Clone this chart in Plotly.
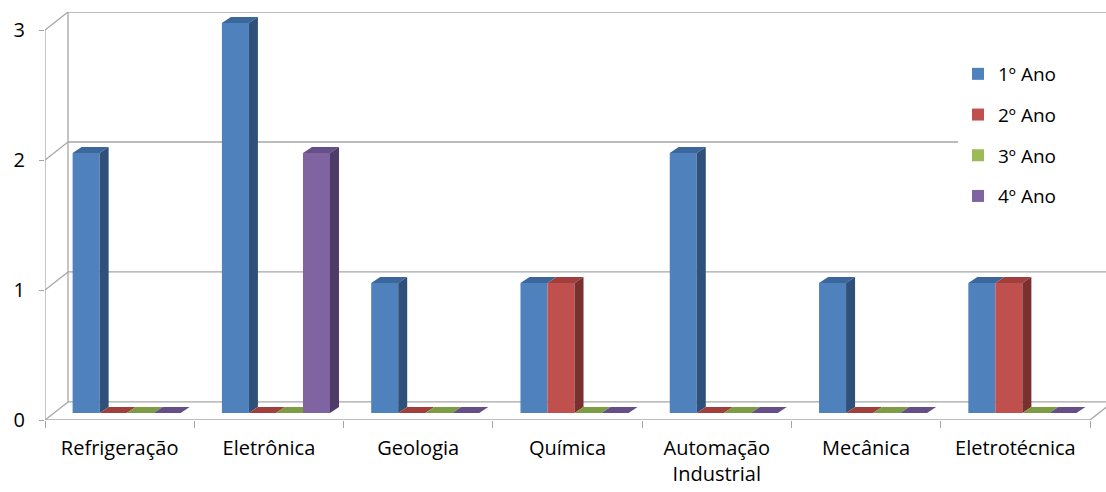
import numpy as np
import plotly.graph_objects as go

# --- data -------------------------------------------------------------
cursos = ["Refrigeração", "Eletrônica", "Geologia", "Química",
          "Automação<br>Industrial", "Mecânica", "Eletrotécnica"]
series_names = ["1º Ano", "2º Ano", "3º Ano", "4º Ano"]
ano1 = [2, 3, 1, 1, 2, 1, 1]
ano2 = [0, 0, 0, 1, 0, 0, 1]
ano3 = [0, 0, 0, 0, 0, 0, 0]
ano4 = [0, 2, 0, 0, 0, 0, 0]
y_ticks = [0, 1, 2, 3]
y_tick_labels = ["0", "1", "2", "3"]

series = [ano1, ano2, ano3, ano4]
front_colors = ["#4F81BD", "#C0504D", "#9BBB59", "#8064A2"]
top_colors = ["#3C679C", "#A03F3C", "#7E9B46", "#664F86"]
side_colors = ["#2F5079", "#7A302E", "#5F7634", "#4E3C68"]

# --- geometry of the pseudo-3D box -------------------------------------
W, H = 1106, 492
ML, MR, MT, MB = 45, 0, 12, 72
n = len(cursos)
px_x = 1045 / n                       # pixels per category
x_lo = -0.5
x_hi = x_lo + (W - ML - MR) / px_x
y_lo, y_hi = -0.054, 3.085
px_y = (H - MT - MB) / (y_hi - y_lo)

bar_w = 0.181                          # width of one bar (category units)
group_shift = 0.047
offsets = [-2 * bar_w + group_shift + k * bar_w for k in range(4)]
dx = 9 / px_x                          # bar depth
dy = 6 / px_y
axis_dy = -0.054                       # front (axis) plane vs bar plane
back_dx = 23 / px_x                    # wall depth
back_dy = 0.085

grid = "#A6A6A6"
shapes = []


def line(x0, y0, x1, y1, color=grid, width=1.3):
    shapes.append(dict(type="line", xref="x", yref="y", x0=x0, y0=y0,
                       x1=x1, y1=y1, line=dict(color=color, width=width),
                       layer="below"))


# back wall gridlines + diagonals to the axis plane
bx = x_lo + back_dx
for v in y_ticks:
    yb = v + back_dy
    ya = v + axis_dy
    line(x_lo, ya, bx, yb)
    x_end = x_hi
    if v == 2:
        x_end = x_lo + (958 - ML) / px_x
    line(bx, yb, x_end, yb)
# back wall left edge
line(bx, y_ticks[0] + back_dy, bx, y_ticks[-1] + back_dy)
# floor front edge and right diagonal
line(x_lo, axis_dy, x_lo + n, axis_dy)
line(x_lo + n, axis_dy, x_lo + n + back_dx, back_dy)
# vertical axis line
line(x_lo, axis_dy, x_lo, y_ticks[-1] + axis_dy)


def poly(pts, color):
    path = "M " + " L ".join(f"{px:.5f},{py:.5f}" for px, py in pts) + " Z"
    shapes.append(dict(type="path", xref="x", yref="y", path=path,
                       fillcolor=color, line=dict(width=0), layer="above"))


# top and side faces of every bar, drawn from the same values
for i in range(n):
    for k in range(4):
        v = series[k][i]
        x0 = i + offsets[k]
        x1 = x0 + bar_w
        nxt = series[k + 1][i] if k < 3 else 0
        if v == 0 and nxt > 0:
            poly([(x0, 0), (x0 + dx, dy), (x1, dy), (x1, 0)], top_colors[k])
        else:
            poly([(x0, v), (x0 + dx, v + dy), (x1 + dx, v + dy), (x1, v)],
                 top_colors[k])
        if v > nxt:
            poly([(x1, nxt), (x1 + dx, nxt + dy), (x1 + dx, v + dy), (x1, v)],
                 side_colors[k])

fig = go.Figure()
for k in range(4):
    fig.add_trace(go.Bar(
        x=np.arange(n), y=series[k], name=series_names[k],
        offset=offsets[k], width=bar_w,
        marker=dict(color=front_colors[k], line=dict(width=0)),
        legendgroup=series_names[k],
    ))

fig.update_layout(
    width=W, height=H,
    margin=dict(l=ML, r=MR, t=MT, b=MB),
    paper_bgcolor="white", plot_bgcolor="white",
    barmode="overlay",
    font=dict(family="Open Sans, Noto Sans, sans-serif", size=20, color="#000000"),
    shapes=shapes,
    showlegend=True,
    legend=dict(x=(958 - ML) / (W - ML - MR), xanchor="left",
                y=1 - (55 - MT) / (H - MT - MB), yanchor="top",
                bgcolor="rgba(255,255,255,0)", font=dict(size=19),
                tracegroupgap=13, itemwidth=30),
    xaxis=dict(range=[x_lo, x_hi], tickvals=list(range(n)), ticktext=cursos,
               ticks="", showgrid=False, zeroline=False, showline=False,
               tickfont=dict(size=20), ticklabelstandoff=14,
               minor=dict(tickvals=[x_lo + j for j in range(n + 1)],
                          ticks="outside", ticklen=7, tickcolor=grid,
                          tickwidth=1.3, showgrid=False)),
    yaxis=dict(range=[y_lo, y_hi],
               tickvals=[v + axis_dy for v in y_ticks], ticktext=y_tick_labels,
               ticks="outside", ticklen=5, tickcolor=grid, tickwidth=1.3,
               showgrid=False, zeroline=False, showline=False,
               ticklabelstandoff=10, tickfont=dict(size=20)),
)

fig.write_html("out.html")
